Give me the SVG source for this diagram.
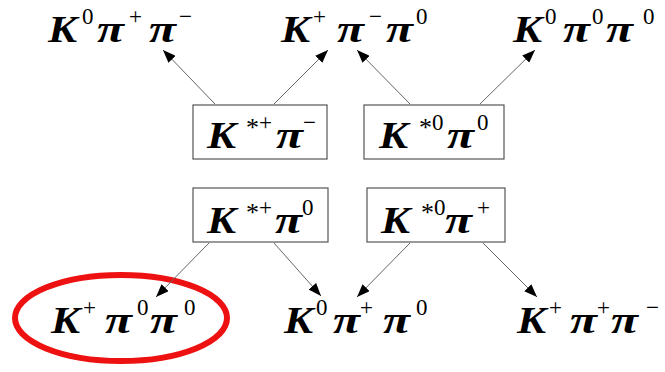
<svg xmlns="http://www.w3.org/2000/svg" width="665" height="372" viewBox="0 0 665 372">
<defs>
<style>
.m{font-family:"Liberation Serif","Times New Roman",serif;font-weight:bold;font-style:italic;font-size:38px;fill:#000}
.p{font-family:"Liberation Serif","Times New Roman",serif;font-weight:bold;font-style:italic;font-size:38px;fill:#000}
.s{font-family:"Liberation Serif","Times New Roman",serif;font-size:23px;fill:#000}
.a{font-family:"Liberation Serif","Times New Roman",serif;font-size:26px;fill:#000}
.box{fill:#fff;stroke:#555;stroke-width:1.2}
.c{stroke:#666;stroke-width:1;fill:none;marker-end:url(#ah)}
</style>
<marker id="ah" markerUnits="userSpaceOnUse" markerWidth="14" markerHeight="10" refX="13" refY="5" orient="auto">
<path d="M0,0 L13,5 L0,10 z" fill="#000"/>
</marker>
</defs>
<rect width="665" height="372" fill="#fff"/>

<g id="top1"><text class="m" transform="translate(48,42) scale(1.15,1)">K</text><text class="s" x="82" y="24">0</text><text class="p" transform="translate(97,42) scale(1.3,1)">π</text><text class="s" x="129" y="24">+</text><text class="p" transform="translate(149,42) scale(1.3,1)">π</text><text class="s" x="179" y="24">−</text></g>
<g id="top2"><text class="m" transform="translate(281,42) scale(1.15,1)">K</text><text class="s" x="313" y="24">+</text><text class="p" transform="translate(337,42) scale(1.3,1)">π</text><text class="s" x="369" y="24">−</text><text class="p" transform="translate(386,42) scale(1.3,1)">π</text><text class="s" x="416" y="24">0</text></g>
<g id="top3"><text class="m" transform="translate(513,42) scale(1.15,1)">K</text><text class="s" x="545" y="24">0</text><text class="p" transform="translate(563,42) scale(1.3,1)">π</text><text class="s" x="592" y="24">0</text><text class="p" transform="translate(606,42) scale(1.3,1)">π</text><text class="s" x="643" y="24">0</text></g>

<g id="box1"><rect class="box" x="193" y="105" width="134" height="54"/><text class="m" transform="translate(207,148) scale(1.15,1)">K</text><text class="a" x="246" y="136">*</text><text class="s" x="259" y="130">+</text><text class="p" transform="translate(276,148) scale(1.3,1)">π</text><text class="s" x="303" y="130">−</text></g>
<g id="box2"><rect class="box" x="364" y="105" width="140" height="54"/><text class="m" transform="translate(379,148) scale(1.15,1)">K</text><text class="a" x="419" y="136">*</text><text class="s" x="432" y="130">0</text><text class="p" transform="translate(447,148) scale(1.3,1)">π</text><text class="s" x="477" y="130">0</text></g>
<g id="box3"><rect class="box" x="193" y="188" width="135" height="54"/><text class="m" transform="translate(207,233) scale(1.15,1)">K</text><text class="a" x="246" y="221">*</text><text class="s" x="259" y="215">+</text><text class="p" transform="translate(275,233) scale(1.3,1)">π</text><text class="s" x="302" y="215">0</text></g>
<g id="box4"><rect class="box" x="367" y="188" width="138" height="54"/><text class="m" transform="translate(381,233) scale(1.15,1)">K</text><text class="a" x="421" y="221">*</text><text class="s" x="434" y="215">0</text><text class="p" transform="translate(445,233) scale(1.3,1)">π</text><text class="s" x="477" y="215">+</text></g>

<g id="bot1"><ellipse cx="121" cy="318" rx="106" ry="43" fill="none" stroke="#ee1111" stroke-width="6"/><text class="m" transform="translate(51,333) scale(1.15,1)">K</text><text class="s" x="83" y="315">+</text><text class="p" transform="translate(105,333) scale(1.3,1)">π</text><text class="s" x="137" y="315">0</text><text class="p" transform="translate(150,333) scale(1.3,1)">π</text><text class="s" x="184" y="315">0</text></g>
<g id="bot2"><text class="m" transform="translate(284,333) scale(1.15,1)">K</text><text class="s" x="316" y="315">0</text><text class="p" transform="translate(333,333) scale(1.3,1)">π</text><text class="s" x="360" y="315">+</text><text class="p" transform="translate(383,333) scale(1.3,1)">π</text><text class="s" x="416" y="315">0</text></g>
<g id="bot3"><text class="m" transform="translate(517,333) scale(1.15,1)">K</text><text class="s" x="549" y="315">+</text><text class="p" transform="translate(570,333) scale(1.3,1)">π</text><text class="s" x="597" y="315">+</text><text class="p" transform="translate(611,333) scale(1.3,1)">π</text><text class="s" x="646" y="315">−</text></g>

<g id="connectors">
<line class="c" x1="215" y1="104" x2="163" y2="50"/>
<line class="c" x1="274" y1="104" x2="328" y2="50"/>
<line class="c" x1="410" y1="104" x2="357" y2="50"/>
<line class="c" x1="480" y1="104" x2="535" y2="50"/>
<line class="c" x1="209" y1="243" x2="156" y2="297"/>
<line class="c" x1="274" y1="243" x2="321" y2="296"/>
<line class="c" x1="410" y1="243" x2="357" y2="297"/>
<line class="c" x1="483" y1="243" x2="537" y2="297"/>
</g>
</svg>
